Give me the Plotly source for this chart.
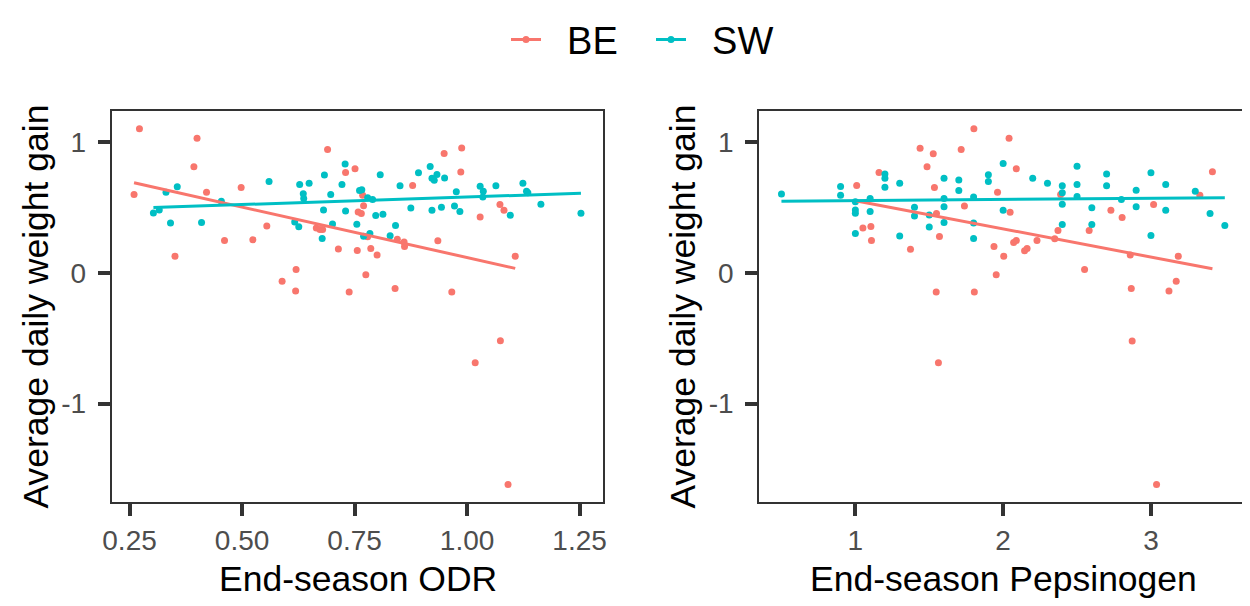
import numpy as np
import plotly.graph_objects as go

# End-season ODR vs ADG
odr_be = [0.272, 0.260, 0.400, 0.393, 0.351, 0.421, 0.498, 0.461, 0.524, 0.555, 0.620, 0.589,
          0.619, 0.690, 0.730, 0.751, 0.665, 0.673, 0.679, 0.714, 0.758, 0.765, 0.756, 0.738,
          0.949, 0.988, 0.986, 0.879, 0.768, 0.770, 0.779, 0.786, 0.800, 0.775, 0.840, 0.845,
          0.860, 0.861, 0.935, 1.029, 1.073, 1.082, 1.107, 0.966, 1.074, 1.018, 1.091]
adg_be_odr = [1.101, 0.597, 1.028, 0.809, 0.125, 0.614, 0.652, 0.247, 0.252, 0.357, 0.025, -0.065,
              -0.140, 0.942, 0.766, 0.794, 0.342, 0.330, 0.330, 0.182, 0.464, 0.452, 0.169, -0.148,
              0.912, 0.954, 0.769, 0.667, 0.592, 0.512, 0.275, 0.185, 0.135, -0.015, -0.120, 0.255,
              0.234, 0.200, 0.245, 0.425, 0.522, 0.477, 0.125, -0.148, -0.519, -0.689, -1.618]
odr_sw = [0.303, 0.316, 0.331, 0.356, 0.341, 0.410, 0.454, 0.560, 0.628, 0.649, 0.636, 0.637,
          0.617, 0.626, 0.683, 0.697, 0.681, 0.701, 0.678, 0.729, 0.722, 0.730, 0.755, 0.761,
          0.807, 0.766, 0.779, 0.790, 0.797, 0.813, 0.770, 0.784, 0.841, 0.829, 0.851, 0.875,
          0.892, 0.918, 0.922, 0.933, 0.927, 0.950, 0.922, 0.943, 0.976, 0.972, 0.984, 1.029,
          1.036, 1.035, 1.064, 1.096, 1.124, 1.132, 1.135, 1.164, 1.253]
adg_sw_odr = [0.457, 0.479, 0.614, 0.657, 0.380, 0.384, 0.547, 0.697, 0.674, 0.684, 0.604, 0.567,
              0.387, 0.352, 0.747, 0.597, 0.479, 0.372, 0.262, 0.831, 0.674, 0.472, 0.371, 0.629,
              0.749, 0.634, 0.572, 0.560, 0.437, 0.447, 0.279, 0.300, 0.360, 0.282, 0.664, 0.494,
              0.764, 0.811, 0.721, 0.751, 0.706, 0.724, 0.477, 0.500, 0.619, 0.509, 0.467, 0.661,
              0.622, 0.579, 0.664, 0.440, 0.684, 0.622, 0.612, 0.524, 0.455]

# End-season Pepsinogen vs ADG
pep_be = [1.802, 1.438, 1.527, 1.716, 1.485, 1.160, 1.009, 1.535, 1.051, 1.105, 1.109, 1.373,
          1.549, 1.569, 1.738, 1.547, 1.805, 2.040, 2.089, 1.962, 2.047, 1.938, 2.004, 1.953,
          2.071, 2.089, 2.145, 2.162, 2.229, 2.349, 2.371, 2.389, 2.551, 2.582, 2.729, 2.805,
          2.860, 2.867, 3.018, 3.185, 3.171, 3.122, 3.331, 3.416, 1.562, 2.873, 3.038]
adg_be_pep = [1.101, 0.951, 0.909, 0.941, 0.809, 0.766, 0.667, 0.652, 0.342, 0.354, 0.247, 0.180,
              0.452, 0.277, 0.509, -0.147, -0.147, 1.028, 0.794, 0.614, 0.462, 0.200, 0.125, -0.015,
              0.230, 0.247, 0.167, 0.185, 0.247, 0.260, 0.322, 0.597, 0.025, 0.322, 0.477, 0.422,
              0.135, -0.120, 0.522, 0.125, -0.065, -0.140, 0.592, 0.772, -0.689, -0.522, -1.618]
pep_sw = [0.5, 0.9, 0.9, 1.0, 1.0, 1.0, 1.1, 1.1, 1.0, 1.2, 1.2, 1.2, 1.3, 1.3, 1.4, 1.4, 1.5, 1.5,
          1.6, 1.6, 1.6, 1.6, 1.7, 1.7, 1.8, 1.8, 1.8, 1.9, 1.9, 2.0, 2.0, 2.2, 2.3, 2.4, 2.4, 2.4,
          2.4, 2.5, 2.5, 2.5, 2.6, 2.6, 2.7, 2.7, 2.8, 2.9, 2.9, 3.0, 3.0, 3.1, 3.1, 3.3, 3.4, 3.5]
adg_sw_pep = [0.602, 0.659, 0.592, 0.542, 0.479, 0.455, 0.567, 0.467, 0.300, 0.754, 0.721, 0.654,
              0.684, 0.280, 0.500, 0.434, 0.442, 0.350, 0.721, 0.567, 0.504, 0.384, 0.709, 0.629,
              0.579, 0.380, 0.262, 0.749, 0.697, 0.834, 0.477, 0.721, 0.684, 0.664, 0.612, 0.524,
              0.369, 0.814, 0.674, 0.582, 0.497, 0.369, 0.754, 0.664, 0.560, 0.631, 0.504, 0.764,
              0.285, 0.674, 0.477, 0.622, 0.452, 0.360]

groups = ['BE', 'SW']
colors = {'BE': '#F8766D', 'SW': '#00BFC4'}

y_ticks = [-1, 0, 1]
y_labels = ['-1', '0', '1']
odr_ticks = [0.25, 0.50, 0.75, 1.00, 1.25]
odr_labels = ['0.25', '0.50', '0.75', '1.00', '1.25']
pep_ticks = [1, 2, 3]
pep_labels = ['1', '2', '3']

FONT = 'Liberation Sans, Arial, sans-serif'
# the page body has an 8px margin, so the figure is a bit smaller and shifted
OFF = 8
W, H = 1250 - OFF, 606 - OFF
NB = '\u00a0'


def px_x(v):
    return (v - OFF) / W


def px_y(v):
    return 1 - (v - OFF) / H


def lm_line(x, y):
    # straight lm fit over the group's range, like geom_smooth(method='lm', se=FALSE)
    b, a = np.polyfit(x, y, 1)
    xs = np.array([min(x), max(x)])
    return xs, a + b * xs


def padded(vals):
    lo, hi = min(vals), max(vals)
    d = (hi - lo) * 0.05
    return [lo - d, hi + d]


panels = [
    ('x', 'y', {'BE': (odr_be, adg_be_odr), 'SW': (odr_sw, adg_sw_odr)}),
    ('x2', 'y2', {'BE': (pep_be, adg_be_pep), 'SW': (pep_sw, adg_sw_pep)}),
]

fig = go.Figure()
for xa, ya, data in panels:
    for g in groups:
        x, y = data[g]
        fig.add_trace(go.Scatter(x=x, y=y, mode='markers', xaxis=xa, yaxis=ya,
                                 marker=dict(color=colors[g], size=7),
                                 showlegend=False))
    for g in groups:
        x, y = data[g]
        lx, ly = lm_line(x, y)
        fig.add_trace(go.Scatter(x=lx, y=ly, mode='lines', xaxis=xa, yaxis=ya,
                                 line=dict(color=colors[g], width=3),
                                 showlegend=False))

# legend keys (line + point, as in ggplot)
for g in groups:
    fig.add_trace(go.Scatter(x=[None], y=[None], mode='lines+markers', name=NB * 2 + g,
                             marker=dict(color=colors[g], size=7),
                             line=dict(color=colors[g], width=3)))

all_y = adg_be_odr + adg_sw_odr + adg_be_pep + adg_sw_pep
yrange = padded(all_y)

axis_style = dict(
    showline=True, mirror=True, linecolor='#333333', linewidth=2,
    ticks='outside', ticklen=12, tickwidth=3.5, tickcolor='#333333',
    showgrid=False, zeroline=False, automargin=False,
    tickfont=dict(family=FONT, size=28, color='#4D4D4D'),
)
title_font = dict(family=FONT, size=35.5, color='black')

fig.update_layout(
    width=W, height=H,
    paper_bgcolor='white', plot_bgcolor='white',
    margin=dict(l=0, r=0, t=0, b=0),
    font=dict(family=FONT, color='black'),
    xaxis=dict(domain=[px_x(111.7), px_x(603.3)], anchor='y',
               range=padded(odr_be + odr_sw), tickvals=odr_ticks, ticktext=odr_labels,
               **axis_style),
    yaxis=dict(domain=[px_y(501), px_y(105)], anchor='x', ticklabelstandoff=6,
               range=yrange, tickvals=y_ticks, ticktext=y_labels, **axis_style),
    xaxis2=dict(domain=[px_x(759.3), px_x(1247)], anchor='y2',
                range=padded(pep_be + pep_sw), tickvals=pep_ticks, ticktext=pep_labels,
                **axis_style),
    yaxis2=dict(domain=[px_y(501), px_y(105)], anchor='x2', ticklabelstandoff=6,
                range=yrange, tickvals=y_ticks, ticktext=y_labels, **axis_style),
    legend=dict(orientation='h', x=px_x(506), xanchor='left', y=px_y(33), yanchor='middle',
                font=dict(family=FONT, size=38, color='black'),
                itemwidth=30, entrywidth=100, bgcolor='rgba(0,0,0,0)'),
    annotations=[
        dict(text='End-season ODR', xref='x domain', yref='paper', x=0.5, y=px_y(579),
             xanchor='center', yanchor='middle', showarrow=False, font=title_font),
        dict(text='End-season Pepsinogen', xref='x2 domain', yref='paper', x=0.5, y=px_y(579),
             xanchor='center', yanchor='middle', showarrow=False, font=title_font),
        dict(text='Average daily weight gain', xref='paper', yref='paper', x=px_x(36), y=px_y(303),
             textangle=-90, xanchor='center', yanchor='middle', showarrow=False, font=title_font),
        dict(text='Average daily weight gain', xref='paper', yref='paper', x=px_x(683), y=px_y(303),
             textangle=-90, xanchor='center', yanchor='middle', showarrow=False, font=title_font),
    ],
)

fig.write_html("out.html")
